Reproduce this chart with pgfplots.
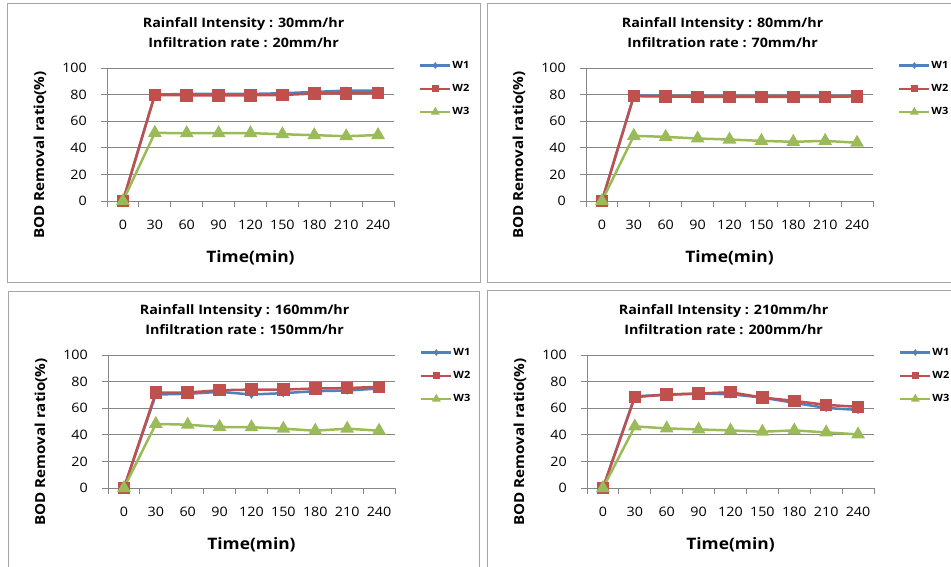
\documentclass[border=0pt]{standalone}
\usepackage{fontspec}
\setmainfont{Open Sans}[FakeStretch=1.1]
\usepackage{pgfplots}
\pgfplotsset{compat=1.18}
\definecolor{wone}{HTML}{4F81BD}
\definecolor{wtwo}{HTML}{C0504D}
\definecolor{wthree}{HTML}{9BBB59}
\definecolor{gridc}{HTML}{868686}
\definecolor{framec}{HTML}{A6A6A6}
\pgfplotsset{
  legend image code/.code={\draw[mark repeat=2,mark phase=2,#1] plot coordinates {(0bp,0bp)(15bp,0bp)(30bp,0bp)};},
  panel/.style={
    scale only axis, width=287bp, height=133bp,
    xmin=-0.5, xmax=8.5, ymin=0, ymax=100,
    axis lines*=left,
    axis line style={gridc, line width=0.8bp},
    xtick={-0.5,0.5,...,8.5}, x tick label as interval,
    xticklabels={0,30,60,90,120,150,180,210,240},
    ytick={0,20,...,100},
    ymajorgrids, grid style={gridc, line width=0.8bp},
    tick align=outside, major tick length=6bp,
    tick style={gridc, line width=0.8bp},
    /pgf/number format/assume math mode=true,
    ticklabel style={font=\fontsize{13bp}{16bp}\selectfont},
    xticklabel style={anchor=center, yshift=-18bp, inner sep=0pt},
    yticklabel style={anchor=east, inner sep=0pt, xshift=-14bp},
    title style={at={(axis description cs:0.476,1)}, anchor=center, yshift=29bp, align=center, font=\bfseries\fontsize{13bp}{20bp}\selectfont},
    xlabel={Time(min)},
    xlabel style={at={(axis description cs:0.5,-0.4285)}, anchor=center, font=\bfseries\fontsize{15.8bp}{20bp}\selectfont},
    ylabel={BOD Removal ratio(\%)},
    ylabel style={at={(axis description cs:-0.2334,0.346)}, anchor=center, font=\bfseries\fontsize{13.8bp}{18bp}\selectfont},
    legend style={at={(axis description cs:1,1)}, anchor=north west, xshift=25bp, yshift=8bp, draw=none, fill=none, inner sep=0pt, row sep=12.5bp, font=\bfseries\fontsize{10bp}{11bp}\selectfont, nodes={inner sep=1bp}},
    legend cell align=left,
    clip=false,
  },
  wa/.style={wone, line width=2.5bp, mark=diamond*, mark size=2.2bp, mark options={solid}},
  wb/.style={wtwo, line width=2.5bp, mark=square*, mark size=5bp, mark options={solid}},
  wc/.style={wthree, line width=2.5bp, mark=triangle*, mark size=5.5bp, mark options={solid}},
  lwa/.style={wone, line width=2.2bp, mark=diamond*, mark size=1.6bp, mark options={solid}},
  lwb/.style={wtwo, line width=2.2bp, mark=square*, mark size=2.6bp, mark options={solid}},
  lwc/.style={wthree, line width=2.2bp, mark=triangle*, mark size=3bp, mark options={solid}},
}
\begin{document}
\begin{tikzpicture}
\useasboundingbox (0bp,0bp) rectangle (951bp,567bp);
\draw[framec, line width=0.8bp] (7bp,564bp) rectangle (480bp,285bp);
\draw[framec, line width=0.8bp] (487bp,564bp) rectangle (965bp,285bp);
\draw[framec, line width=0.8bp] (8bp,276bp) rectangle (479bp,-10bp);
\draw[framec, line width=0.8bp] (487bp,277bp) rectangle (965bp,-10bp);

% Panel 1
\begin{axis}[panel, at={(107bp,366bp)}, anchor=south west,
  title={Rainfall Intensity : 30mm/hr\\Infiltration rate : 20mm/hr}]
\addplot[wa, forget plot] coordinates {(0,0)(1,80)(2,80.5)(3,80.5)(4,80.5)(5,81)(6,82)(7,83)(8,83)};
\addplot[wb, forget plot] coordinates {(0,0)(1,79.7)(2,79.5)(3,79.5)(4,79.5)(5,79.7)(6,80.8)(7,81)(8,81.3)};
\addplot[wc, forget plot] coordinates {(0,0)(1,51.2)(2,51)(3,51)(4,51)(5,50.2)(6,49.5)(7,48.7)(8,49.6)};
\addlegendimage{lwa}\addlegendentry{W1}
\addlegendimage{lwb}\addlegendentry{W2}
\addlegendimage{lwc}\addlegendentry{W3}
\end{axis}

% Panel 2
\begin{axis}[panel, at={(586bp,366bp)}, anchor=south west,
  title={Rainfall Intensity : 80mm/hr\\Infiltration rate : 70mm/hr}]
\addplot[wa, forget plot] coordinates {(0,0)(1,79.2)(2,79)(3,78.8)(4,78.7)(5,78.6)(6,78.6)(7,78.6)(8,79)};
\addplot[wb, forget plot] coordinates {(0,0)(1,78.8)(2,78.6)(3,78.3)(4,78.3)(5,78.2)(6,78.2)(7,78.2)(8,78.7)};
\addplot[wc, forget plot] coordinates {(0,0)(1,49)(2,48.2)(3,47)(4,46.2)(5,45.2)(6,44.5)(7,45.2)(8,43.8)};
\addlegendimage{lwa}\addlegendentry{W1}
\addlegendimage{lwb}\addlegendentry{W2}
\addlegendimage{lwc}\addlegendentry{W3}
\end{axis}

% Panel 3
\begin{axis}[panel, at={(108bp,79bp)}, anchor=south west,
  title={Rainfall Intensity : 160mm/hr\\Infiltration rate : 150mm/hr}]
\addplot[wa, forget plot] coordinates {(0,0)(1,70.3)(2,70.8)(3,72.3)(4,70.3)(5,71.3)(6,72.8)(7,73.3)(8,74.8)};
\addplot[wb, forget plot] coordinates {(0,0)(1,71.8)(2,71.8)(3,73.5)(4,74)(5,74)(6,74.8)(7,75.1)(8,76.1)};
\addplot[wc, forget plot] coordinates {(0,0)(1,48.2)(2,47.6)(3,45.9)(4,45.7)(5,44.6)(6,43.1)(7,44.6)(8,43.1)};
\addlegendimage{lwa}\addlegendentry{W1}
\addlegendimage{lwb}\addlegendentry{W2}
\addlegendimage{lwc}\addlegendentry{W3}
\end{axis}

% Panel 4
\begin{axis}[panel, at={(587bp,79bp)}, anchor=south west,
  title={Rainfall Intensity : 210mm/hr\\Infiltration rate : 200mm/hr}]
\addplot[wa, forget plot] coordinates {(0,0)(1,69)(2,70)(3,71)(4,70.5)(5,68)(6,64)(7,60.2)(8,58.7)};
\addplot[wb, forget plot] coordinates {(0,0)(1,68.3)(2,70.4)(3,71)(4,72)(5,68)(6,65.5)(7,62.5)(8,61)};
\addplot[wc, forget plot] coordinates {(0,0)(1,46.3)(2,44.8)(3,44)(4,43.3)(5,42.3)(6,43.3)(7,41.8)(8,40.3)};
\addlegendimage{lwa}\addlegendentry{W1}
\addlegendimage{lwb}\addlegendentry{W2}
\addlegendimage{lwc}\addlegendentry{W3}
\end{axis}
\end{tikzpicture}
\end{document}
